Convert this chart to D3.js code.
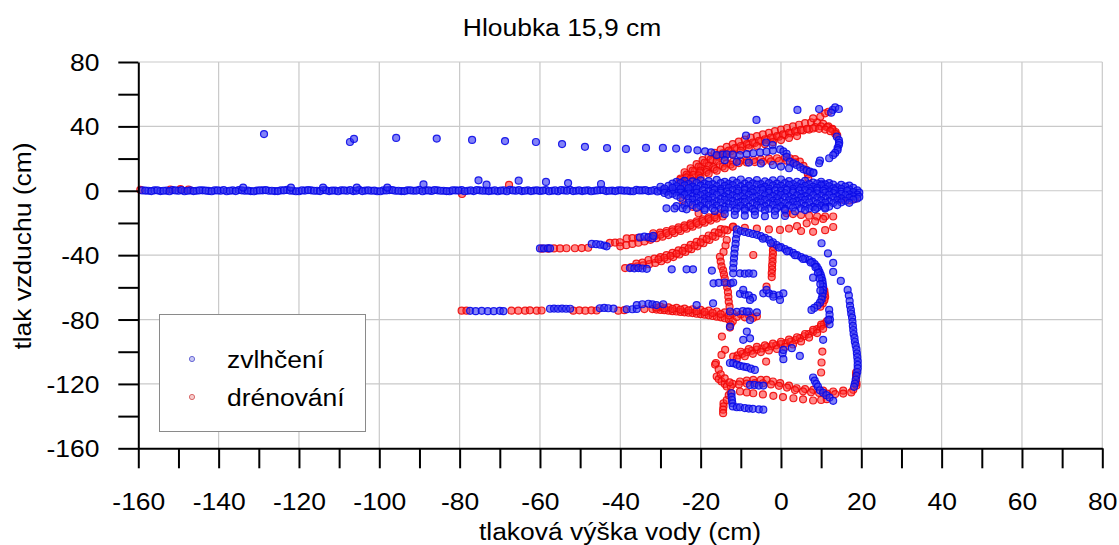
<!DOCTYPE html>
<html><head><meta charset="utf-8">
<script src="https://cdn.jsdelivr.net/npm/d3@7"></script>
<style>body{margin:0;background:#fff}svg text{font-family:"Liberation Sans",Arial,sans-serif;fill:#000}</style>
</head><body><svg id="c" width="1119" height="545"></svg>
<script>
// ---------- axis / tick data ----------
const xTickValues = [-160,-150,-140,-130,-120,-110,-100,-90,-80,-70,-60,-50,-40,-30,-20,-10,0,10,20,30,40,50,60,70,80];
const xLabelValues = [-160,-140,-120,-100,-80,-60,-40,-20,0,20,40,60,80];
const yTickValues = [-160,-140,-120,-100,-80,-60,-40,-20,0,20,40,60,80];
const yLabelValues = [-160,-120,-80,-40,0,40,80];
const xGridValues = [-140,-120,-100,-80,-60,-40,-20,0,20,40,60,80];
const yGridValues = [-120,-80,-40,0,40,80];
const seriesNames = ["zvlhčení","drénování"];
const titleText = "Hloubka 15,9 cm";
const xTitle = "tlaková výška vody (cm)";
const yTitle = "tlak vzduchu (cm)";

// ---------- zvlhčení (blue) ----------
const blueBand = [[-159,0.2],[-157.5,0],[-156,0.3],[-154.5,-0.2],[-153,0.1],[-151.5,0.4],[-150,0],[-148.5,-0.3],[-147,0.2],[-145.5,0],[-144,0.3],[-142.5,-0.1],[-141,0.2],[-139.5,0],[-138,-0.3],[-136.5,0.2],[-135,0.4],[-133.5,0],[-132,-0.2],[-130.5,0.1],[-129,0.3],[-127.5,0],[-126,-0.2],[-124.5,0.2],[-123,0.5],[-121.5,0],[-120,-0.3],[-118.5,0.1],[-117,0.3],[-115.5,0],[-114,0.4],[-112.5,-0.2],[-111,0.1],[-109.5,0.3],[-108,0],[-106.5,-0.2],[-105,0.5],[-103.5,0.1],[-102,0],[-100.5,-0.3],[-99,0.2],[-97.5,0.4],[-96,0],[-94.5,-0.2],[-93,0.3],[-91.5,0],[-90,0.5],[-88.5,0.2],[-87,-0.1],[-85.5,0.3],[-84,0],[-82.5,-0.3],[-81,0.2],[-79.5,0.4],[-78,0],[-76.5,-0.2],[-75,0.3],[-73.5,0.1],[-72,0],[-70.5,-0.3],[-69,0.2],[-67.5,0.5],[-66,0],[-64.5,-0.2],[-63,0.3],[-61.5,0.1],[-60,-0.1],[-58.5,0.4],[-57,0],[-55.5,-0.3],[-54,0.2],[-52.5,0.5],[-51,0],[-49.5,-0.2],[-48,0.3],[-46.5,0],[-45,0.4],[-43.5,-0.2],[-42,0.1],[-40.5,0.3],[-39,0],[-37.5,-0.3],[-36,0.5],[-34.5,0.2],[-33,-0.2],[-31.5,0.4],[-30,0],[-28.5,-0.4],[-27,0.6],[-25.5,0.2],[-24,-0.5],[-22.5,0.8],[-21,-0.2],
 [-158.25,0.1],[-156.75,-0.2],[-155.25,0.3],[-153.75,0],[-152.25,-0.3],[-150.75,0.2],[-149.25,0.4],[-147.75,0],[-146.25,-0.2],[-144.75,0.3],[-143.25,0.1],[-141.75,-0.3],[-140.25,0.2],[-138.75,0.4],[-137.25,0],[-135.75,-0.2],[-134.25,0.3],[-132.75,0.1],[-131.25,-0.3],[-129.75,0.2],[-128.25,0.4],[-126.75,0],[-125.25,-0.2],[-123.75,0.3],[-122.25,0.1],[-120.75,-0.3],[-119.25,0.2],[-117.75,0.4],[-116.25,0],[-114.75,-0.2],[-113.25,0.3],[-111.75,0.1],[-110.25,-0.3],[-108.75,0.2],[-107.25,0.4],[-105.75,0],[-104.25,-0.2],[-102.75,0.3],[-101.25,0.1],[-99.75,-0.3],[-98.25,0.2],[-96.75,0.4],[-95.25,0],[-93.75,-0.2],[-92.25,0.3],[-90.75,0.1],[-89.25,-0.3],[-87.75,0.2],[-86.25,0.4],[-84.75,0],[-83.25,-0.2],[-81.75,0.3],[-80.25,0.1],[-78.75,-0.3],[-77.25,0.2],[-75.75,0.4],[-74.25,0],[-72.75,-0.2],[-71.25,0.3],[-69.75,0.1],[-68.25,-0.3],[-66.75,0.2],[-65.25,0.4],[-63.75,0],[-62.25,-0.2],[-60.75,0.3],[-59.25,0.1],[-57.75,-0.3],[-56.25,0.2],[-54.75,0.4],[-53.25,0],[-51.75,-0.2],[-50.25,0.3],[-48.75,0.1],[-47.25,-0.3],[-45.75,0.2],[-44.25,0.4],[-42.75,0],[-41.25,-0.2],[-39.75,0.3],[-38.25,0.1],[-36.75,-0.3],[-35.25,0.2],[-33.75,0.4],[-32.25,0],[-30.75,-0.4],[-29.25,0.5],[-27.75,0.1],[-26.25,-0.5],[-24.75,0.6],[-23.25,-0.3],[-21.75,0.4]];
const blueArcSparse = [[-128.7,35.2],[-107.3,30.3],[-106.3,32.2],[-95.8,32.8],[-85.7,32.4],[-76.9,31.6],[-68.7,30.9],[-61,30.3],[-54.5,29],[-48.8,27.3],[-43.3,26.5],[-38.6,26],[-33.6,26.6],[-29.4,26.6],[-26.1,26.2],[-23.2,25.7],[-20.8,25.1],[-18.9,24.5],[-17.4,23.9]];
const blueNearBand = [[-133.9,2],[-122,2],[-114,2],[-105.6,2],[-98,2],[-89,4],[-75.3,6.5],[-73.3,3.8],[-65.3,6.3],[-58.5,5.5],[-53,4.8],[-44.8,4.2]];
const blueTop = [[4.1,50.2],[9.5,50.8],[12.9,50.2],[13.5,51.8],[14.4,50.8],[12.5,48.5],[-6.1,44],[-8.7,34.2],[-3.7,30],[-2.1,28.4]];
const blueHook = [[13.9,33.6],[14.4,31.5],[14.5,29.8],[14.4,28.4],[14.1,26.5],[14.1,25.3],[13.5,23.5],[13,22.2],[12,20.2],[9.7,18.7],[9.5,17.1],[8,11],[10.1,4.2]];
const blueUpperBand = [[-16,22.2],[-14.5,22.4],[-13.5,22.6],[-12,22.4],[-10.2,22.2],[-8.5,22.8],[-6.9,23.3],[-5.2,23.8],[-3.6,24.3],[-2,25],[-0.2,25.7],[0.6,24.5],[1.4,23],[1.4,21],[2.2,18.1],[3.1,17],[3.9,16],[4.8,14.6],[5.6,13.3],[6.4,12.6],[7.2,11.9],[8.1,11.3],[-14,19],[-11,18],[-8,17.5],[-5,17],[-2,16],[0,15],[2,14]];
const blueMass = [
 [-26,5.5],[-24,6.2],[-22,5.8],[-20,6.5],[-18,6],[-16,6.8],[-14,5.5],[-12,6.3],[-10,7],[-8,6],[-6,6.6],[-4,5.8],[-2,6.4],[0,7],[2,6],[4,5.5],[6,6.2],[8,5],[10,5.6],[12,4.8],
 [-27,4.4],[-25,4.8],[-23,4.2],[-21,4.9],[-19,4.5],[-17,4.1],[-15,4.7],[-13,4.3],[-11,4.9],[-9,4.4],[-7,4.6],[-5,4.1],[-3,4.8],[-1,4.4],[1,4.7],[3,4.2],[5,4.6],[7,4.1],[9,4.5],[11,4],[13,3.8],[15,3.6],[17,3.2],
 [-30,2.5],[-28,3],[-26,2.8],[-24,3.4],[-22,2.6],[-20,3.2],[-18,3.6],[-16,2.8],[-14,3],[-12,3.5],[-10,2.7],[-8,3.2],[-6,3.8],[-4,2.6],[-2,3.3],[0,3],[2,3.6],[4,2.8],[6,3.1],[8,2.5],[10,3.4],[12,2.8],[14,2.2],[16,2.6],[18,1.8],
 [-29,1.4],[-27,1.8],[-25,1.2],[-23,1.7],[-21,1.3],[-19,1.9],[-17,1.5],[-15,1.2],[-13,1.8],[-11,1.4],[-9,1.6],[-7,1.1],[-5,1.7],[-3,1.3],[-1,1.9],[1,1.5],[3,1.2],[5,1.8],[7,1.4],[9,1.6],[11,1.1],[13,1.5],[15,1.2],[17,0.8],[19,0.2],
 [-19.5,0.3],[-18,-0.2],[-16.5,0.5],[-15,0],[-13.5,-0.4],[-12,0.4],[-10.5,0],[-9,0.6],[-7.5,-0.3],[-6,0.2],[-4.5,0.5],[-3,-0.2],[-1.5,0.3],[0,0],[1.5,0.5],[3,-0.3],[4.5,0.2],[6,0.4],[7.5,-0.2],[9,0.3],[10.5,0],[12,-0.4],[13.5,0.2],[15,-0.5],[16.5,0],[18,-0.8],[19.5,-1.2],
 [-29,-1.4],[-27,-1.8],[-25,-1.2],[-23,-1.7],[-21,-1.3],[-19,-1.9],[-17,-1.5],[-15,-1.2],[-13,-1.8],[-11,-1.4],[-9,-1.6],[-7,-1.1],[-5,-1.7],[-3,-1.3],[-1,-1.9],[1,-1.5],[3,-1.2],[5,-1.8],[7,-1.4],[9,-1.6],[11,-1.1],[13,-1.5],[15,-1.9],[17,-2.2],[19,-2.4],
 [-28,-2.5],[-26,-3],[-24,-2.6],[-22,-3.4],[-20,-2.8],[-18,-3.2],[-16,-2.5],[-14,-3.5],[-12,-2.9],[-10,-3.3],[-8,-2.6],[-6,-3.4],[-4,-2.8],[-2,-3.2],[0,-2.5],[2,-3.4],[4,-2.9],[6,-3.3],[8,-2.7],[10,-3.1],[12,-2.6],[14,-3.3],[16,-2.8],[18,-3.5],[19.5,-3.8],
 [-25,-4.4],[-23,-4.8],[-21,-4.2],[-19,-4.7],[-17,-4.3],[-15,-4.9],[-13,-4.5],[-11,-4.1],[-9,-4.7],[-7,-4.3],[-5,-4.8],[-3,-4.4],[-1,-4.6],[1,-4.1],[3,-4.7],[5,-4.3],[7,-4.8],[9,-4.4],[11,-4.6],[13,-4.2],[15,-4.7],[17,-4.4],[19,-4.8],
 [-22,-5.5],[-20,-6.2],[-18,-5.8],[-16,-6.5],[-14,-5.6],[-12,-6.3],[-10,-6.8],[-8,-5.9],[-6,-6.4],[-4,-5.6],[-2,-6.2],[0,-6.8],[2,-5.9],[4,-6.3],[6,-5.7],[8,-6.5],[10,-6],[12,-6.6],[14,-5.8],[16,-6.2],[18,-5.5],
 [-23,-7.4],[-21,-7.8],[-19,-7.2],[-17,-7.7],[-15,-7.3],[-13,-7.9],[-11,-7.5],[-9,-7.1],[-7,-7.7],[-5,-7.3],[-3,-7.8],[-1,-7.4],[1,-7.6],[3,-7.1],[5,-7.7],[7,-7.3],[9,-7.8],[11,-7.4],[13,-7.6],[15,-7.2],[17,-7.5],
 [-26,-9.5],[-24,-9],[-22,-8.8],[-20,-9.4],[-18,-8.6],[-16,-9.2],[-14,-9.8],[-12,-8.7],[-10,-9.3],[-8,-9.9],[-6,-8.9],[-4,-9.5],[-2,-8.8],[0,-9.6],[2,-9.1],[4,-8.7],[6,-9.4],[8,-10],[10,-9.2],[12,-9.8],[14,-8.9],
 [-21,-10.6],[-19,-11],[-17,-10.8],[-15,-11.2],[-13,-10.4],[-11,-11],[-9,-10.9],[-7,-11.3],[-5,-10.5],[-3,-11.1],[-1,-10.8],[1,-11.2],[3,-10.4],[5,-11],[7,-10.9],[9,-10.6],[11,-10.3],
 [-19,-12],[-16.5,-12.5],[-14,-11.8],[-11.5,-12.6],[-9,-12.2],[-6.5,-12.8],[-4,-12.1],[-1.5,-12.6],[1,-12.2],[3.5,-12.8],[6,-12],[8.5,-11.5],[11,-11],
 [-14,-14.5],[-11.5,-15],[-9,-15.5],[-6.5,-15],[-4,-15.8],[-1.5,-15.2],[1,-15.6],
 [-28.5,-10.9],[-26.5,-11],[-24.5,-10.8],[-23.5,-11.5]];
const blueLeftBands = [[-60,-35.8],[-59,-35.8],[-58,-35.7],[-57.5,-35.8],[-47.1,-33],[-46,-33.2],[-45,-33.5],[-44,-34],[-43.4,-34.5],[-35.1,-29],[-34,-28.5],[-33,-28.8],[-32,-29.5],[-31.8,-28],
 [-37.6,-48],[-36.5,-48.2],[-35.5,-48],[-34.5,-48.3],[-33.4,-48.5],[-27.2,-48.8],[-23.5,-48.8],[-21.9,-48.8],[-17.2,-49.6],
 [-77.4,-74.6],[-76,-74.8],[-74.5,-74.6],[-73,-74.8],[-71.5,-74.8],[-70,-74.6],[-69.1,-74.8],[-57.5,-73.3],[-56.5,-73.2],[-55.5,-73.3],[-54.5,-73.2],[-53.5,-73.3],[-52.5,-73.3],[-45.1,-73],[-44,-72.8],[-43,-73],[-41.7,-73.2],[-38.4,-73.6],[-37,-73.6],[-35.9,-73.4],[-35.9,-71],[-34.5,-70.5],[-33,-70.2],[-32,-70.6],[-31,-71],[-29.3,-70.5],[-21,-71],[-16.9,-69.9]];
const blueCentral = [[-11,-24],[-11,-27],[-11.2,-30],[-11.3,-33],[-11.5,-36],[-11.6,-39],[-11.7,-42],[-11.8,-45],[-11.9,-48],[-11.9,-51.3],
 [-16.8,-57.5],[-15.5,-57.2],[-14,-57],[-12.5,-57.5],[-11.9,-57],[-10.2,-51.3],[-9,-51.5],[-8,-51.3],[-6.9,-51.5],
 [-10.2,-64],[-9,-64.5],[-8,-65],[-7,-66.5],[-9.4,-61.6],[-7.7,-67.8],[-4.4,-63.7],[-3,-63.7],[-1.9,-64.5],[-0.5,-65],[0.6,-63.7],[-3.6,-61.6],[-1.9,-65.8],[-0.25,-67.8],
 [-12.7,-75],[-11,-75.2],[-9.5,-74.8],[-8,-75],[-6,-75.5],[-8.5,-75.1],[-7.7,-80.3],[-12.7,-84.4],[-8.5,-87.5],[-7.7,-91.7],[-9.4,-92.6],
 [-10,-25],[-9,-25.6],[-8,-26.2],[-7,-26.8]];
const blueSCurve = [[-6,-27.4],[-5,-28.2],[-4,-29.2],[-3,-30.5],[-2,-32],[-1.1,-33.7],[0,-35],[1,-36.2],[2,-37.4],[3,-38.6],[4,-40],[5,-41.2],[6,-42.2],[7,-43],[7.8,-44.2],[8.4,-45.6],[8.9,-47.1],[9.3,-48.8],[9.6,-50.5],[9.9,-52.3],[10.1,-54],[10.3,-55.8],[10.4,-57.6],[10.5,-59.5],[10.5,-61.6],[10.4,-63.5],[10.3,-65.5],[10.1,-67.5],[9.7,-69.5],[9.1,-71.3],[8.3,-72.8],[7.6,-74],[8,-54],[12,-74],[12.1,-77],[12.2,-80],[12.1,-83],[11.8,-80.2],
 [-4.5,-29.8],[-2.5,-32.6],[-0.5,-35.3],[1.5,-37.6],[3.5,-40],[5.5,-42.4],[7.4,-44.6],[8.6,-47.5],[9.2,-51],[9.6,-54.5],[9.8,-58],[9.8,-62]];
const blueRightChain = [[10.1,-32.6],[11.7,-38.9],[13,-44.8],[13,-50.4],[14.9,-56],[16.6,-61.6],[16.9,-65],[17.1,-68.5],[17.2,-71.5],[17.4,-74],[17.5,-76.4],[17.7,-78.8],[17.8,-81.4],[17.9,-84],[18,-86.5],[18.1,-89],[18.3,-91.4],[18.4,-93.8],[18.6,-96.2],[18.8,-98.6],[18.9,-101],[19,-103.4],[19.1,-105.8],[19.1,-108.2],[19.1,-110.4],[19,-112.6],[18.8,-115],[18.6,-117.4],[18.4,-119.8],[18.2,-121.8]];
const blueLower = [[-12.7,-107],[-11.9,-107.1],[-11,-108],[-10.2,-108.8],[-9.3,-109.2],[-8.5,-109.6],[-7.5,-110.5],[-6.5,-111.3],
 [-7.7,-120.6],[-6.6,-120.6],[-5.5,-121],[-4.4,-121],
 [8,-116],[8.4,-118],[8.8,-120],[9.2,-121.7],[9.7,-124],[10.5,-125.5],[11.3,-127],[12.1,-128.5],[13,-130.5],
 [-12.3,-125.8],[-12.3,-128],[-12.2,-130],[-12.1,-132],[-12,-134],[-11,-134.5],[-10.2,-134.5],[-9,-135],[-8,-135.3],[-7,-135.5],[-5.5,-135.8],[-4.4,-136],
 [0.4,-101],[0.6,-104.6],[2.7,-97.8],[4.7,-102.6],[10.5,-92.6],[0.6,-98.9]];

// ---------- drénování (red) ----------
const redFar = [[-159.5,0.6],[-152,0.8],[-149.5,1],[-147.5,0.8],[-79.4,-2],[-67.7,3.6]];
const redArc = [
 [-24,11.5],[-22.5,14],[-21,16.5],[-19.5,19],[-18,21.5],[-16.5,23.5],[-15,25.5],[-13.5,27.3],[-12,29],[-10.5,30.5],[-9,31.8],[-7.5,33],[-6,34],[-4.5,35],[-3,36],[-1.5,37],[0,38],[1.5,39],[3,40],[4.5,41],[6,42],[7.5,42.5],[9,42.5],[10.5,41.5],[11.8,40],[12.8,38.5],[13.6,36.5],[14,34.5],
 [-23,9.5],[-21.5,12],[-20,14.5],[-18.5,17],[-17,19],[-15.5,21],[-14,22.8],[-12.5,24.5],[-11,26],[-9.5,27.3],[-8,28.5],[-6.5,29.6],[-5,30.6],[-3.5,31.6],[-2,32.6],[-0.5,33.6],[1,34.6],[2.5,35.6],[4,36.6],[5.5,37.5],[7,38],[8.5,39.5],[10,40],[11.5,39.5],[12.8,38],[13.5,35.5],
 [-25,7.5],[-23.5,10],[-22,12.5],[-20.5,15],[-19,17.5],[-17.5,19.5],[-16,21.5],[-14.5,23.3],[-13,25],[-11.5,26.5],[-10,27.8],[-8.5,29],[-7,30],[-5.5,31],[-4,32],[-2.5,33],[-1,34],[0.5,35],[2,36],[3.5,37],[5,37.8],[6.5,38.5],[8,38.7],[9.5,38.5],[11,38],[12.3,37],
 [-20,12.5],[-18,15.5],[-16,18.5],[-14,21],[-12,23],[-10,25],[-8,26.5],[-6,27.8],[-4,29],[-2,30.2],[0,31.5],[2,32.8],[4,34],
 [8,45],[9.8,46],[11,48.1],[11.8,49.1]];
const redUpperBand = [[-25.1,6.7],[-23.5,8.3],[-21.8,9.8],[-20.2,11.4],[-18.5,12.9],[-16.8,14.5],[-15.2,16],[-13.5,17],[-11.9,18.1],[-10.2,18.6],[-8.5,19.1],[-6.8,19.1],[-5,19.5],[-3,20],[-1,20.2],[1,20.5],[2.2,20.2],[3.5,19.6],[4.7,18.1],[5.6,15.5],[6.4,12.9],[6.7,10.3],[6.8,7.7],
 [-24.5,5.5],[-22.5,7.5],[-20.5,9.6],[-18.5,11.6],[-16.5,13.4],[-14.5,15],[-12.5,16.3],[-10.5,17.2],[-8.5,17.6],[-6.5,17.8],[-4.5,18],[-2.5,18.3],[-0.5,18.5],[1.5,18.6],[3.5,17.6],
 [-24,4],[-22,6],[-20,8],[-18,10.5],[-16,12.5],[-14,14],[-12,15]];
const redMassBits = [[1.4,-14],[3,-14.5],[5,-15],[7,-15.5],[9,-16],[11,-16],[13,-16],
 [-11.9,-22.3],[-9,-23],[-6,-23.5],[-3,-24],[-0.25,-24.3],[2,-23.5],[4,-22],[6.4,-20.2],[8.5,-19],[10.5,-17.5],[5,-25],[8,-25.5],[11,-24.5],[13,-22.5],
 [15,-5.5],[17,-6],[18.5,-5],[-24.4,-6],[-22,-10],[-20.5,-14]];
const redBand1 = [[-59.5,-36],[-58,-36],[-56.5,-35.8],[-55,-35.8],[-53.4,-35.7],[-51.3,-35.7],[-49.6,-35.6],[-48,-35.4],[-42.6,-32.4],[-41.3,-32.2],[-40.1,-32],[-38.4,-29.6],[-37,-29.4],[-35.6,-29.2],[-31.8,-26.4],[-30.1,-26],[-28.5,-25],[-27,-24],[-25.5,-22.8],[-24,-21.5],[-22.5,-20.2],[-21,-19],[-19.5,-17.8],[-18,-16.5],[-16.5,-15.2],[-15,-14],
 [-40,-34.5],[-38.5,-33.8],[-37,-33],[-35.5,-32.3],[-34,-31.5],[-32.5,-30.5],[-31,-29.5],[-29.5,-28.5],[-28,-27.5],[-26.5,-26.3],[-25,-25],[-23.5,-23.6],[-22,-22.3],[-20.5,-21],[-19,-19.8],[-17.5,-18.5],[-16,-17.3],[-14.5,-16],
 [-33,-29.3],[-31.5,-28.3],[-30,-27.3],[-28.5,-26.3],[-27,-25.2],[-25.5,-24],[-24,-22.7],[-22.5,-21.4],[-21,-20.1],[-19.5,-18.9],[-18,-17.6],[-16.5,-16.4]];
const redBand2 = [[-38.8,-48],[-37.3,-47.5],[-35.8,-47],[-34.3,-46.4],[-32.8,-45.6],[-31.3,-44.8],[-29.8,-43.8],[-28.3,-42.6],[-26.8,-41.2],[-25.3,-39.6],[-23.8,-38],[-22.3,-36.3],[-20.8,-34.5],[-19.3,-32.6],[-17.8,-30.6],[-16.3,-28.6],[-14.8,-26.6],[-13.3,-24.6],[-12,-22.5],
 [-33,-43],[-31.5,-42.2],[-30,-41.2],[-28.5,-40],[-27,-38.6],[-25.5,-37],[-24,-35.4],[-22.5,-33.6],[-21,-31.8],[-19.5,-29.8],[-18,-27.8],[-16.5,-25.8],[-15,-23.8],
 [-36,-45.3],[-34.5,-44.7],[-30.5,-42.6],[-29,-41.6],[-27.5,-40.4],[-26,-39],[-24.5,-37.4],[-23,-35.8],[-21.5,-34],[-20,-32.1],[-18.5,-30.1],[-17,-28.1],[-15.5,-26.1],[-14,-24.2]];
const redBand3 = [[-79.5,-74.5],[-78.3,-74.5],[-67.1,-74.5],[-65.4,-74.5],[-63.7,-74.5],[-62.5,-74.3],[-60.8,-74.5],[-59.6,-74.4],[-51.7,-74.5],[-50.2,-74.3],[-48.7,-74.5],[-47.2,-74.3],[-45.9,-74.4],[-40.5,-74.5],[-39,-74.2],[-34,-73.5],
 [-32,-73.5],[-31,-73.8],[-30,-74],[-29,-74.2],[-28,-74.5],[-27,-74.8],[-26,-75],[-25,-75.3],[-24,-75.5],[-23,-75.8],[-22,-76],[-21,-76.4],[-20,-76.7],[-19,-77],[-18,-77.4],[-17,-77.8],[-16,-78.2],[-15,-78.6],[-14,-79.2],[-13,-80],[-12,-81],
 [-30,-72],[-28,-72.4],[-26,-72.8],[-24,-73.2],[-22,-73.6],[-20,-74],[-18,-74.5],[-16,-75],[-14,-75.6],[-12,-76.2],[-10,-76.8],[-8,-77.4],[-6,-78],
 [-31,-72.6],[-29,-73],[-27,-73.4],[-25,-73.9],[-23,-74.3],[-21,-74.8],[-19,-75.3],[-17,-75.9],[-15,-76.6],[-13,-77.4],[-11,-78.4],[-9,-78.6],[-7,-79]];
const redVertical = [[-15.2,-41],[-15,-44],[-14.8,-47],[-14.4,-49.5],[-14.2,-52],[-14,-54.5],[-13.5,-57.5],[-13.4,-60],[-13.2,-63],[-13.1,-66],[-13,-69],[-12.8,-72],[-12.5,-83],[-12.7,-85],[-13.5,-30.6],[-13.8,-34],[-14.3,-38],
 [-1.9,-34.7],[-2,-37],[-2,-39.3],[-2.1,-41.6],[-2.1,-44],[-2.2,-46.4],[-2.2,-48.8],[-2.3,-51.2],[-2.3,-53.6],[-3.6,-59.6],[-6.9,-39.9],
 [10.8,-62],[10.9,-64],[11,-66],[10.8,-68],[10.4,-70],[9.8,-72]];
const redSparse = [[-14.7,-90.6],[-13.9,-98.8],[-14.8,-102],[-16.2,-107],[-16.4,-108],[-15.5,-111],[-3.7,-106.1],[10.3,-99.9],[10.1,-106.7],[10,-112.9]];
const redRising = [[-11.9,-103],[-10.8,-102.3],[-9.6,-101.3],[-8.5,-100.2],[-7.3,-99.4],[-6,-98.7],[-4.8,-98],[-3.6,-97.2],[-2.4,-96.6],[-1.2,-96],[0,-95.3],[1.2,-94.6],[2.4,-93.7],[3.6,-92.7],[4.7,-91.6],[5.8,-90.4],[6.9,-89],[8,-87.6],[9,-86],[9.9,-84.4],[10.7,-82.8],[11.4,-81.2],
 [-10,-100],[-8,-98.4],[-6,-97],[-4,-96],[-2,-95],[0,-93.8],[2,-92.5],[4,-91],[6,-89],[8,-86.4],[10,-83.2],
 [-11,-104.5],[-9,-102.8],[-7,-101.3],[-5,-100.2],[-3,-99.2],[-1,-98.3],[1,-97],[3,-95.5],[5,-93.6],[7,-91.2],[9,-88.4],[10.5,-85.8]];
const redLower = [[-16,-115.4],[-15.5,-117],[-14.8,-118.5],[-14,-120],[-13.5,-121.6],[-12,-120],[-10.2,-118.5],[-8.5,-118],[-6.9,-117.5],[-5,-117.5],[-3.6,-117.5],[-2,-118.5],[-0.2,-119.5],[2,-121],[3.9,-122.7],[6,-123.2],[8,-123.7],[10.5,-124.2],[13,-124.7],[15.5,-124.2],[18,-123.7],[18.8,-121],[18.8,-119.5],[18.7,-117],[18.7,-115],[18.7,-113],
 [-12.5,-121.5],[-10.5,-120.3],[-8.5,-119.8],[-6.5,-119.5],[-4.5,-119.6],[-2.5,-120.3],[-0.5,-121.2],[1.5,-122.3],[3.5,-123.8],[5.5,-124.6],[7.5,-125.2],[9.5,-125.6],[11.5,-126],[13.5,-126.3],[15.5,-126],[17.5,-125.3],
 [-10.2,-124.7],[-8.5,-125.3],[-6.9,-125.8],[-4.5,-126.5],[-1.9,-127.4],[0.5,-128.2],[3.1,-128.9],[5.5,-129.6],[8,-130.3],[10,-130],[11.4,-129.5],
 [-14.3,-132],[-14.3,-134],[-14.4,-136],[-14.4,-138.2],[-13.5,-130],[-13,-127],[-12.5,-125.5],[-15,-114],[-14,-116.5],[-12.8,-119]];

const zvlhceni = [].concat(blueBand, blueArcSparse, blueNearBand, blueTop, blueHook, blueUpperBand, blueMass, blueLeftBands, blueCentral, blueSCurve, blueRightChain, blueLower);
const drenovani = [].concat(redFar, redArc, redUpperBand, redMassBits, redBand1, redBand2, redBand3, redVertical, redSparse, redRising, redLower);

// ---------- drawing ----------
const svg = d3.select("#c");
svg.append("rect").attr("width",1119).attr("height",545).attr("fill","#fff");
const x = d3.scaleLinear().domain([-160,80]).range([138.3,1102.3]);
const y = d3.scaleLinear().domain([-160,80]).range([448.3,62]);
const FS = 24.5, SX = 1.08;

// grid
const grid = svg.append("g");
grid.selectAll("line.gx").data(xGridValues).join("line")
  .attr("x1",d=>x(d)).attr("x2",d=>x(d)).attr("y1",y(80)).attr("y2",y(-160))
  .attr("stroke","#c9c9c9").attr("stroke-width",1.2);
grid.selectAll("line.gy").data(yGridValues).join("line")
  .attr("y1",d=>y(d)).attr("y2",d=>y(d)).attr("x1",x(-160)).attr("x2",x(80))
  .attr("stroke","#c9c9c9").attr("stroke-width",1.2);

// points
const R = 3.5;
const pts = svg.append("g");
pts.selectAll("circle.r").data(drenovani).join("circle")
  .attr("cx",d=>x(d[0])).attr("cy",d=>y(d[1])).attr("r",R)
  .attr("fill","#ff2a2a").attr("fill-opacity",0.55)
  .attr("stroke","#f00808").attr("stroke-opacity",0.9).attr("stroke-width",1.2);
pts.selectAll("circle.b").data(zvlhceni).join("circle")
  .attr("cx",d=>x(d[0])).attr("cy",d=>y(d[1])).attr("r",R)
  .attr("fill","#3030f2").attr("fill-opacity",0.6)
  .attr("stroke","#0a0ae8").attr("stroke-opacity",0.9).attr("stroke-width",1.2);

// axes
const xAxis = d3.axisBottom(x).tickValues(xTickValues).tickSize(20).tickSizeOuter(0)
  .tickFormat(d => xLabelValues.includes(d) ? String(d) : "");
const gx = svg.append("g").attr("transform",`translate(0,${y(-160)})`).call(xAxis);
gx.select(".domain").attr("stroke","#000").attr("stroke-width",2);
gx.selectAll(".tick line").attr("stroke","#000").attr("stroke-width",2);
gx.selectAll("text").attr("font-size",FS).attr("y",62).attr("dy",0)
  .attr("transform",`scale(${SX},1)`).style("font-family","Liberation Sans, Arial, sans-serif").attr("fill","#000");

const yAxis = d3.axisLeft(y).tickValues(yTickValues).tickSize(20).tickSizeOuter(0)
  .tickFormat(d => yLabelValues.includes(d) ? String(d) : "");
const gy = svg.append("g").attr("transform",`translate(${x(-160)},0)`).call(yAxis);
gy.select(".domain").attr("stroke","#000").attr("stroke-width",2);
gy.selectAll(".tick line").attr("stroke","#000").attr("stroke-width",2);
gy.selectAll("text").attr("font-size",FS).attr("x",-36).attr("dy","0.35em")
  .attr("transform",`scale(${SX},1)`).style("font-family","Liberation Sans, Arial, sans-serif").attr("fill","#000");

// titles
svg.append("text").attr("transform",`translate(562,36) scale(${SX},1)`).attr("text-anchor","middle")
  .attr("font-size",FS).text(titleText);
svg.append("text").attr("transform",`translate(620,540) scale(${SX},1)`).attr("text-anchor","middle")
  .attr("font-size",FS).text(xTitle);
svg.append("text").attr("transform",`translate(31,246) rotate(-90) scale(${SX},1)`).attr("text-anchor","middle")
  .attr("font-size",FS).text(yTitle);

// legend
const lg = svg.append("g");
lg.append("rect").attr("x",159.5).attr("y",314.5).attr("width",206).attr("height",117)
  .attr("fill","#fff").attr("stroke","#8a8a8a").attr("stroke-width",1);
const legColors = [["#6a6ad6","#c8c8f4"],["#d96a6a","#f6cccc"]];
seriesNames.forEach((nm,i)=>{
  const cy = 359 + i*38;
  lg.append("circle").attr("cx",192).attr("cy",cy).attr("r",2.6)
    .attr("fill",legColors[i][1]).attr("stroke",legColors[i][0]).attr("stroke-width",1);
  lg.append("text").attr("transform",`translate(227,${cy+9}) scale(${SX},1)`).attr("font-size",FS).text(nm);
});
</script></body></html>
